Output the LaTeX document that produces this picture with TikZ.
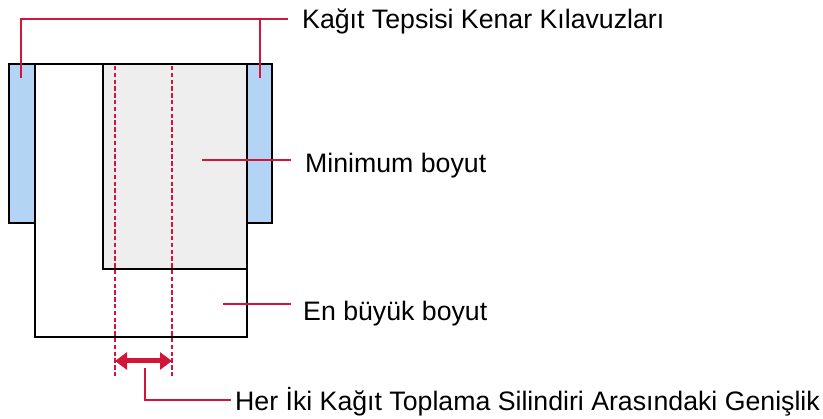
\documentclass[tikz,border=0pt]{standalone}
\usepackage{fontspec}
\setmainfont{Liberation Sans}
\usetikzlibrary{arrows.meta}
\definecolor{leadred}{HTML}{D3153A}
\definecolor{guideblue}{HTML}{B3D4F4}
\definecolor{mingray}{HTML}{EEEEEE}
\tikzset{
  outline/.style={draw=black,line width=2.8pt},
  leader/.style={draw=leadred,line width=2.5pt},
  rollerline/.style={draw=leadred,line width=2.3pt,dash pattern=on 4.5pt off 2.3pt},
  widtharrow/.style={draw=leadred,line width=5pt,{Triangle[length=12pt,width=17pt]}-{Triangle[length=12pt,width=17pt]}},
  lbl/.style={inner sep=0pt,font=\fontsize{26.7pt}{31pt}\selectfont,text=black}
}
\begin{document}
\begin{tikzpicture}[x=1pt,y=-1pt]
\useasboundingbox (0,0) rectangle (823,419);
% maximum size sheet
\draw[outline,fill=white] (35,64) rectangle (247,337);
% minimum size sheet
\draw[outline,fill=mingray] (103,64) rectangle (247,269);
% side guides
\draw[outline,fill=guideblue] (9,64) rectangle (35,223);
\draw[outline,fill=guideblue] (247,64) rectangle (272,223);
% named points
\coordinate (gl) at (21,78);
\coordinate (gr) at (260,78);
\coordinate (topl) at (21,19);
\coordinate (topr) at (260,19);
\coordinate (topend) at (288,19);
\coordinate (minin) at (202,160);
\coordinate (minend) at (291,160);
\coordinate (maxin) at (223,304);
\coordinate (maxend) at (291,304);
\coordinate (rl1) at (115,66);
\coordinate (rl2) at (115,377);
\coordinate (rr1) at (172,66);
\coordinate (rr2) at (172,377);
\coordinate (al) at (115,361);
\coordinate (ar) at (172,361);
\coordinate (wb) at (145,368);
\coordinate (wc) at (145,400);
\coordinate (wend) at (231,400);
% roller lines
\draw[rollerline] (rl1) -- (rl2);
\draw[rollerline] (rr1) -- (rr2);
\draw[widtharrow] (al) -- (ar);
% labels
\node[lbl,anchor=base west] (tguide) at (302,28.5) {Kağıt Tepsisi Kenar Kılavuzları};
\node[lbl,anchor=base west] (tmin) at (305,173) {Minimum boyut};
\node[lbl,anchor=base west] (tmax) at (303,321) {En büyük boyut};
\node[lbl,anchor=base west] (twidth) at (235,411) {Her İki Kağıt Toplama Silindiri Arasındaki Genişlik};
% leaders
\draw[leader] (gl) -- (topl) -- (topr) -- (gr);
\draw[leader] (topr) -- (topend);
\draw[leader] (minin) -- (minend);
\draw[leader] (maxin) -- (maxend);
\draw[leader] (wb) -- (wc) -- (wend);
\end{tikzpicture}
\end{document}
